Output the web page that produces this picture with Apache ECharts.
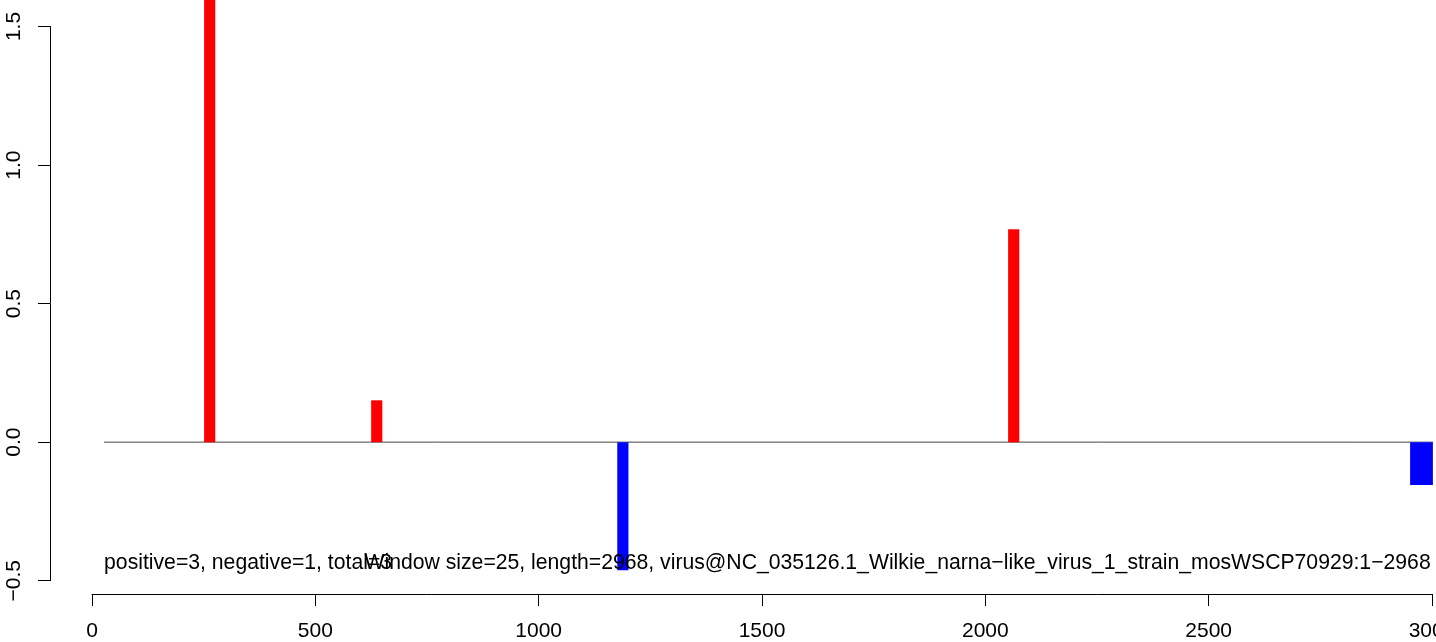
<!DOCTYPE html>
<html>
<head>
<meta charset="utf-8">
<script src="https://cdn.jsdelivr.net/npm/echarts@6/dist/echarts.min.js"></script>
<style>
  html, body { margin: 0; padding: 0; background: #fff; }
  #chart { width: 1436px; height: 642px; }
</style>
</head>
<body>
<div id="chart"></div>
<script>
// ---- data ----
const windowStarts = [251, 625, 1176, 2051, 2951];
const windowEnds   = [276, 650, 1201, 2076, 3002];
const scores       = [1.75, 0.151, -0.462, 0.768, -0.155];
const baselineX    = [27, 3010];
const xTicks       = [0, 500, 1000, 1500, 2000, 2500, 3000];
const yTicks       = [-0.5, 0.0, 0.5, 1.0, 1.5];
const statsText    = 'positive=3, negative=1, total=3';
const infoText     = 'Window size=25, length=2968, virus@NC_035126.1_Wilkie_narna\u2212like_virus_1_strain_mosWSCP70929:1\u22122968';
const statsX = 27;
const infoX  = 2997;

const FONT = "'Liberation Sans', Arial, Helvetica, sans-serif";
const chart = echarts.init(document.getElementById('chart'), null, { renderer: 'canvas' });

const barData = windowStarts.map((s, i) => [s, windowEnds[i], scores[i]]);

chart.setOption({
  animation: false,
  backgroundColor: '#ffffff',
  grid: { left: 92, right: 4, top: 26.5, bottom: 61.3, containLabel: false, outerBoundsMode: 'none' },
  xAxis: {
    type: 'value', min: xTicks[0], max: xTicks[xTicks.length - 1], interval: 500,
    offset: 13.3,
    axisLine: { show: true, onZero: false, lineStyle: { color: '#000', width: 1 } },
    axisTick: { show: true, inside: false, length: 12, lineStyle: { color: '#000', width: 1 } },
    axisLabel: { show: true, color: '#000', fontSize: 21, fontFamily: FONT, margin: 27,
                 showMinLabel: true, showMaxLabel: true, hideOverlap: false,
                 formatter: v => String(v) },
    splitLine: { show: false }
  },
  yAxis: {
    type: 'value', min: yTicks[0], max: yTicks[yTicks.length - 1], interval: 0.5,
    offset: 42,
    axisLine: { show: true, onZero: false, lineStyle: { color: '#000', width: 1 } },
    axisTick: { show: true, inside: false, length: 12, lineStyle: { color: '#000', width: 1 } },
    axisLabel: { show: true, color: '#000', fontSize: 21, fontFamily: FONT, rotate: 90, margin: 25,
                 formatter: v => v.toFixed(1).replace('-', '\u2212') },
    splitLine: { show: false }
  },
  series: [
    {
      type: 'line',
      data: baselineX.map(x => [x, 0]),
      symbol: 'none',
      clip: false,
      lineStyle: { color: '#444444', width: 1 },
      z: 1
    },
    {
      type: 'custom',
      clip: false,
      data: barData,
      renderItem: function (params, api) {
        const s = api.value(0), e = api.value(1), v = api.value(2);
        const p1 = api.coord([s, v]);
        const p2 = api.coord([e, 0]);
        return {
          type: 'rect',
          shape: { x: p1[0], y: Math.min(p1[1], p2[1]), width: p2[0] - p1[0], height: Math.abs(p2[1] - p1[1]) },
          style: { fill: v >= 0 ? '#ff0000' : '#0000ff' }
        };
      },
      z: 2
    },
    {
      type: 'custom',
      clip: false,
      data: [[statsX, 0], [infoX, 1]],
      renderItem: function (params, api) {
        const x = api.value(0);
        const which = api.value(1);
        const p = api.coord([x, 0]);
        return {
          type: 'text',
          x: p[0], y: 563,
          style: {
            text: which === 0 ? statsText : infoText,
            fill: '#000', font: '21.2px ' + FONT,
            align: which === 0 ? 'left' : 'right', verticalAlign: 'middle'
          }
        };
      },
      z: 3
    }
  ]
});
</script>
</body>
</html>
